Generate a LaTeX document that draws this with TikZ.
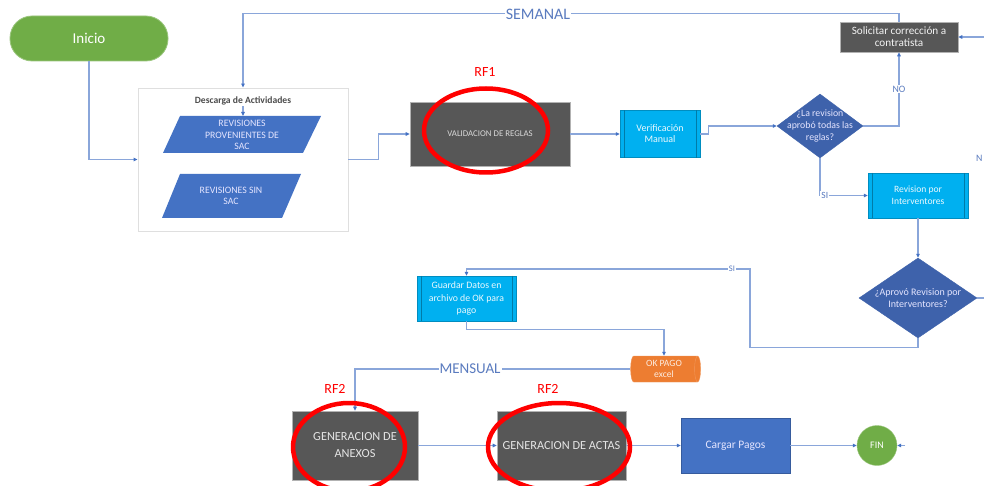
\documentclass[tikz,border=0pt]{standalone}
\usepackage{fontspec}
\setmainfont{Carlito}
\usetikzlibrary{arrows.meta,shapes.geometric}
\definecolor{lnc}{HTML}{8AA6DA}
\definecolor{tipc}{HTML}{4472C4}
\definecolor{grn}{HTML}{70AD47}
\definecolor{cyn}{HTML}{00B0F0}
\definecolor{dgr}{HTML}{575757}
\definecolor{blu}{HTML}{4472C4}
\definecolor{dblu}{HTML}{3E62AB}
\definecolor{org}{HTML}{ED7D31}
\definecolor{lblc}{HTML}{5A7BBF}
\begin{document}
\begin{tikzpicture}[x=1pt,y=-1pt,
  line/.style={draw=lnc,line width=1.1pt},
  arr/.style={line,-{Triangle[length=4pt,width=3.5pt,fill=tipc,color=tipc]}},
  term/.style={fill=grn,draw=grn!70!white,line width=0.8pt,rounded corners=22pt,text=white,font=\fontsize{15}{17}\selectfont},
  darkbox/.style={fill=dgr,draw=gray!60,line width=0.6pt,text=gray!20,align=center,inner sep=1pt},
  procbox/.style={fill=cyn,draw=cyn!80!black,line width=0.4pt,text=white!92!cyn,align=center,inner sep=1pt},
  decis/.style={diamond,fill=dblu,draw=dblu,inner sep=0pt},
  dtext/.style={text=white!90!blue,align=center,inner sep=0pt},
  partext/.style={text=white!90!blue,align=center,inner sep=0pt,font=\fontsize{9.8}{11.5}\selectfont},
  lbl/.style={text=lblc,font=\fontsize{9.8}{11}\selectfont,inner sep=1pt},
  biglbl/.style={text=lblc,fill=white,inner sep=1pt},
  rflbl/.style={text=red,font=\fontsize{14}{16}\selectfont},
  redring/.style={draw=red,line width=4.5pt}
]
\useasboundingbox (0,0) rectangle (984,486);
\fill[white] (0,0) rectangle (984,486);

% nodes
\node[term,minimum width=158pt,minimum height=45pt] (inicio) at (89,38.5) {Inicio};
\node[draw=gray!25,line width=0.8pt,fill=white,minimum width=210pt,minimum height=143pt] (desc) at (243,159.5) {};
\node[text=black!70,inner sep=1pt,font=\bfseries\fontsize{9.6}{11}\selectfont] (desctitle) at (243,101) {Descarga de Actividades};
\fill[blu] (180,116) -- (321,116) -- (303,153) -- (163,153) -- cycle;
\fill[blu] (180,174) -- (301,174) -- (282,218) -- (162,218) -- cycle;
\coordinate (p1top) at (243,116);
\node[partext] (par1) at (242,135) {REVISIONES\\PROVENIENTES DE\\SAC};
\node[partext] (par2) at (231,196) {REVISIONES SIN\\SAC};

\node[darkbox,minimum width=160pt,minimum height=64pt,text=gray!30,font=\fontsize{8.8}{10}\selectfont] (valid) at (490,134) {VALIDACION DE REGLAS};
\node[procbox,minimum width=80pt,minimum height=47pt,font=\fontsize{10}{11}\selectfont] (verif) at (660,134) {Verificación\\Manual};
\draw[cyn!70!black,line width=0.4pt] ([xshift=4pt]verif.north west) -- ([xshift=4pt]verif.south west)
  ([xshift=-4pt]verif.north east) -- ([xshift=-4pt]verif.south east);
\node[decis,minimum width=86pt,minimum height=64pt] (dia1) at (820,126) {};
\node[dtext,font=\fontsize{9.8}{12}\selectfont] (dia1t) at (dia1.center) {¿La revision\\aprobó todas las\\reglas?};
\node[darkbox,minimum width=118pt,minimum height=30pt,text=white!90!gray,font=\fontsize{11.2}{12}\selectfont] (solic) at (899,37) {Solicitar corrección a\\contratista};
\node[procbox,minimum width=100pt,minimum height=45pt,font=\fontsize{9.6}{12}\selectfont] (rev) at (918,195.5) {Revision por\\Interventores};
\draw[cyn!70!black,line width=0.4pt] ([xshift=4pt]rev.north west) -- ([xshift=4pt]rev.south west)
  ([xshift=-4pt]rev.north east) -- ([xshift=-4pt]rev.south east);
\node[decis,minimum width=118pt,minimum height=80pt] (dia2) at (918,298) {};
\node[dtext,font=\fontsize{10}{12}\selectfont] (dia2t) at (dia2.center) {¿Aprovó Revision por\\Interventores?};
\node[procbox,minimum width=99pt,minimum height=45pt,font=\fontsize{9.8}{12.5}\selectfont] (guardar) at (466.5,298.5) {Guardar Datos en\\archivo de OK para\\pago};
\draw[cyn!70!black,line width=0.4pt] ([xshift=4pt]guardar.north west) -- ([xshift=4pt]guardar.south west)
  ([xshift=-4pt]guardar.north east) -- ([xshift=-4pt]guardar.south east);
\node[cylinder,shape aspect=0.35,fill=org,draw=org!80!white,text=white!85!org,align=center,inner sep=0pt,minimum width=26pt,minimum height=70pt,font=\fontsize{9.6}{11}\selectfont] (okpago) at (664,369) {OK PAGO\\excel};
\node[darkbox,minimum width=126pt,minimum height=69pt,font=\fontsize{12.3}{17}\selectfont] (anexos) at (355,445.5) {GENERACION DE\\ANEXOS};
\node[darkbox,minimum width=129pt,minimum height=69pt,font=\fontsize{12.3}{14}\selectfont] (actas) at (561.5,445.5) {GENERACION DE ACTAS};
\node[fill=blu,draw=blu!80!black,line width=0.4pt,text=white!90!blue,minimum width=109pt,minimum height=55pt,font=\fontsize{11.5}{13}\selectfont] (cargar) at (735.5,445.5) {Cargar Pagos};
\node[circle,fill=grn,draw=grn!70!white,text=white,minimum size=40pt,inner sep=0pt,font=\fontsize{10}{12}\selectfont] (fin) at (877,445.5) {FIN};

% connectors
\draw[arr] (inicio.south) |- (desc.west);
\draw[arr] (desctitle.south) -- (p1top);
\draw[arr] (desc.east) -- ++(30,0) |- (valid.west);
\draw[arr] (valid.east) -- (verif.west);
\draw[arr] (verif.east) -- ++(8,0) |- (dia1.west);
\draw[arr] (dia1.east) -| (solic.south) node[lbl,pos=0.75,fill=white] {NO};
\draw[arr] (solic.north) -- ++(0,-8) -| (desc.north);
\node[biglbl,font=\fontsize{16}{18}\selectfont] (semanal) at (538,14.5) {SEMANAL};
\coordinate (rin) at (984,37);
\draw[arr] (rin) -- (solic.east);
\node[lbl,anchor=west] (ncut) at (975,158) {N};
\draw[arr] (dia1.south) |- (rev.west) node[lbl,pos=0.55,fill=white,font=\fontsize{9.5}{11}\selectfont] {SI};
\draw[arr] (rev.south) -- (dia2.north);
\coordinate (r2) at (984,298);
\draw[line] (dia2.east) -- (r2);
\draw[arr] (dia2.south) -- ++(0,9) -| (750,269) -| (guardar.north);
\node[lbl,fill=white,font=\fontsize{8.5}{10}\selectfont] (si2) at (732,269) {SI};
\draw[arr] (guardar.south) -- ++(0,8) -| (okpago.north);
\draw[arr] (okpago.west) -| (anexos.north);
\node[biglbl,font=\fontsize{15}{17}\selectfont] (mensual) at (470,369) {MENSUAL};
\draw[arr] (anexos.east) -- (actas.west);
\draw[arr] (actas.east) -- (cargar.west);
\draw[arr] (cargar.east) -- (fin.west);
\coordinate (fr) at (905,445.5);
\draw[arr] (fr) -- (fin.east);

% red rings and labels
\draw[redring] (486,130.5) ellipse [x radius=62, y radius=42];
\draw[redring] (349,447) ellipse [x radius=56, y radius=44];
\draw[redring] (559,447) ellipse [x radius=71, y radius=44];
\node[rflbl] (rf1) at (485,72) {RF1};
\node[rflbl] (rf2a) at (335,389) {RF2};
\node[rflbl] (rf2b) at (548,389) {RF2};
\end{tikzpicture}
\end{document}
